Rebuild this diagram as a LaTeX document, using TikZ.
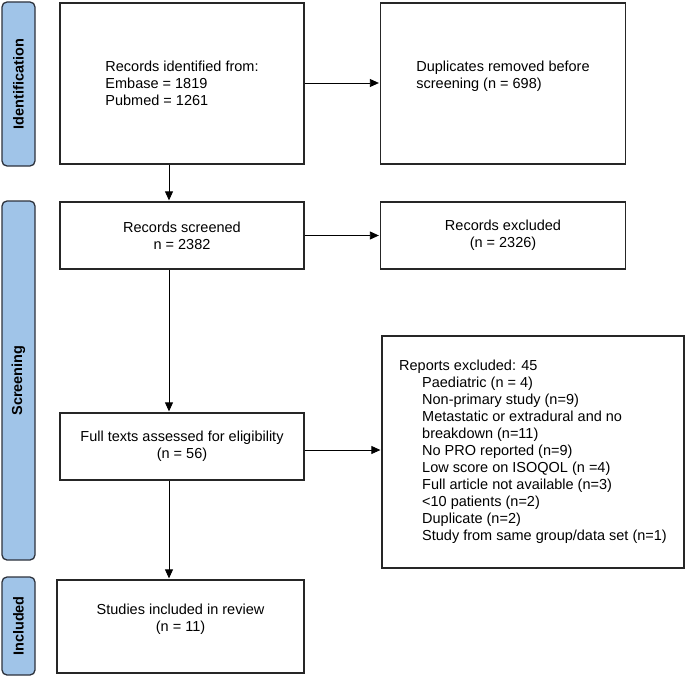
\documentclass[tikz,border=0pt]{standalone}
\usepackage{fontspec}
\setmainfont{Liberation Sans}
\usetikzlibrary{arrows.meta}
\usepackage{xcolor}
\definecolor{phasefill}{RGB}{160,196,232}
\definecolor{phaseline}{RGB}{45,50,60}

\begin{document}
\begin{tikzpicture}[
  x=1pt, y=-1pt,
  font=\fontsize{14.5}{17}\selectfont,
  box/.style={draw=black!85, line width=1.3pt, align=center, inner sep=0pt},
  phase/.style={draw=phaseline, line width=1.3pt, fill=phasefill, rounded corners=5pt,
    minimum width=33pt, inner sep=0pt, font=\fontsize{14.5}{17}\selectfont\bfseries},
  arrow/.style={-{Triangle[length=9pt,width=8pt]}, line width=0.8pt, shorten >=1pt}
]
\useasboundingbox (0,0) rectangle (685,677);

% phase labels
\node[phase, minimum height=164pt] (idph) at (18.5,84) {\rotatebox{90}{Identification}};
\node[phase, minimum height=359pt] (scph) at (18.5,380.5) {\rotatebox{90}{Screening}};
\node[phase, minimum height=98pt] (inph) at (18.5,626) {\rotatebox{90}{Included}};

% boxes
\node[box, minimum width=244pt, minimum height=161pt, align=left] (ident) at (182,83.5)
  {Records identified from:\\Embase = 1819\\Pubmed = 1261};
\node[box, minimum width=245pt, minimum height=161pt, align=left] (dup) at (503,83.5)
  {Duplicates removed before\\screening (n = 698)\\\mbox{}};
\node[box, minimum width=244pt, minimum height=67pt] (screen) at (182,235.5)
  {Records screened\\n = 2382};
\node[box, minimum width=245pt, minimum height=67pt] (excl) at (503,235.5)
  {Records excluded\\(n = 2326)};
\node[box, minimum width=244pt, minimum height=67pt] (full) at (182,446.5)
  {Full texts assessed for eligibility\\(n = 56)};
\node[box, minimum width=302pt, minimum height=232pt, align=left] (reports) at (533,452)
  {Reports excluded: 45\\
   \hspace*{23pt}Paediatric (n = 4)\\
   \hspace*{23pt}Non-primary study (n=9)\\
   \hspace*{23pt}Metastatic or extradural and no\\
   \hspace*{23pt}breakdown (n=11)\\
   \hspace*{23pt}No PRO reported (n=9)\\
   \hspace*{23pt}Low score on ISOQOL (n =4)\\
   \hspace*{23pt}Full article not available (n=3)\\
   \hspace*{23pt}<10 patients (n=2)\\
   \hspace*{23pt}Duplicate (n=2)\\
   \hspace*{23pt}Study from same group/data set (n=1)};
\node[box, minimum width=247pt, minimum height=93pt] (incl) at (180.5,626.5)
  {Studies included in review\\(n = 11)\\\mbox{}};

% connectors
\draw[arrow] (ident.east |- 0,83) -- (dup.west |- 0,83);
\draw[arrow] (screen.east) -- (excl.west);
\draw[arrow] (full.east |- 0,450) -- (reports.west |- 0,450);
\draw[arrow] (ident.south -| 169,0) -- (screen.north -| 169,0);
\draw[arrow] (screen.south -| 169,0) -- (full.north -| 169,0);
\draw[arrow] (full.south -| 169,0) -- (incl.north -| 169,0);
\end{tikzpicture}
\end{document}
